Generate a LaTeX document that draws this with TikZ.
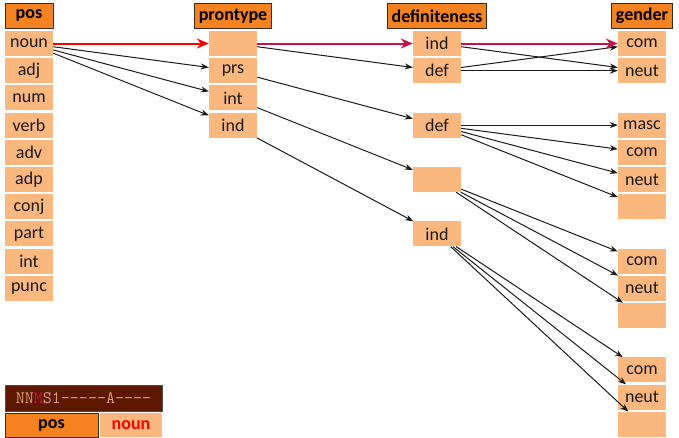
\documentclass[tikz,border=0pt]{standalone}
\usepackage{fontspec}
\usetikzlibrary{arrows.meta}
\newfontfamily\carl{Carlito}
\definecolor{cellc}{HTML}{FAB87F}
\definecolor{headc}{HTML}{F58220}
\definecolor{headb}{HTML}{3A2A1A}
\definecolor{crim}{HTML}{C4104E}
\definecolor{tagbg}{HTML}{5E1700}
\definecolor{tagfg}{HTML}{D8A06C}
\definecolor{arrc}{HTML}{1A1A1A}
\newcommand{\cellfont}{\carl\fontsize{18}{18}\selectfont}
\newcommand{\headfont}{\carl\bfseries\fontsize{18}{18}\selectfont}
\tikzset{
  cell/.style={rectangle, fill=cellc, minimum width=48pt, minimum height=25pt, inner sep=0pt, font=\cellfont, text=black!90},
  head/.style={rectangle, fill=headc, draw=headb, line width=0.9pt, minimum width=48pt, minimum height=25pt, inner xsep=4pt, inner ysep=0pt, font=\headfont},
  arr/.style={draw=arrc, line width=1pt, -{Stealth[length=8pt,width=6pt]}},
  redarr/.style={draw=red, line width=2pt, -{Stealth[length=12pt,width=10pt]}},
  crimarr/.style={draw=crim, line width=2pt, -{Stealth[length=12pt,width=10pt]}},
}
\begin{document}
\begin{tikzpicture}[x=1pt,y=-1pt]
\useasboundingbox (0,0) rectangle (679,437);
\def\ry#1{43.5+27.2*#1}
% headers
\node[head] (hpos) at (29,15.75) {pos};
\node[head] (hpron) at (233,15.75) {prontype};
\node[head] (hdef) at (437,15.75) {definiteness};
\node[head] (hgen) at (642,15.75) {gender};
% pos column
\node[cell] (noun) at (29,{\ry{0}}) {noun};
\node[cell] (adj) at (29,{\ry{1}}) {adj};
\node[cell] (num) at (29,{\ry{2}}) {num};
\node[cell] (verb) at (29,{\ry{3}}) {verb};
\node[cell] (adv) at (29,{\ry{4}}) {adv};
\node[cell] (adp) at (29,{\ry{5}}) {adp};
\node[cell] (conj) at (29,{\ry{6}}) {conj};
\node[cell] (part) at (29,{\ry{7}}) {part};
\node[cell] (intj) at (29,{\ry{8}}) {int};
\node[cell] (punc) at (29,{\ry{9}}) {punc};
% prontype column
\node[cell] (p0) at (233,{\ry{0}}) {};
\node[cell] (p1) at (233,{\ry{1}}) {prs};
\node[cell] (p2) at (233,{\ry{2}}) {int};
\node[cell] (p3) at (233,{\ry{3}}) {ind};
% definiteness column
\node[cell] (d0) at (437,{\ry{0}}) {ind};
\node[cell] (d1) at (437,{\ry{1}}) {def};
\node[cell] (d3) at (437,{\ry{3}}) {def};
\node[cell] (d5) at (437,{\ry{5}}) {};
\node[cell] (d7) at (437,{\ry{7}}) {ind};
% gender column
\node[cell] (g0) at (642,{\ry{0}}) {com};
\node[cell] (g1) at (642,{\ry{1}}) {neut};
\node[cell] (g3) at (642,{\ry{3}}) {masc};
\node[cell] (g4) at (642,{\ry{4}}) {com};
\node[cell] (g5) at (642,{\ry{5}}) {neut};
\node[cell] (g6) at (642,{\ry{6}}) {};
\node[cell] (g8) at (642,{\ry{8}}) {com};
\node[cell] (g9) at (642,{\ry{9}}) {neut};
\node[cell] (g10) at (642,{\ry{10}}) {};
\node[cell] (g12) at (642,{\ry{12}}) {com};
\node[cell] (g13) at (642,{\ry{13}}) {neut};
\node[cell] (g14) at (642,{\ry{14}}) {};
% black connectors
\draw[arr] (noun) -- (p1);
\draw[arr] (noun) -- (p2);
\draw[arr] (noun) -- (p3);
\draw[arr] (p0) -- (d1);
\draw[arr] (p1) -- (d3);
\draw[arr] (p2) -- (d5);
\draw[arr] (p3) -- (d7);
\draw[arr] (d0) -- (g1);
\draw[arr] (d1) -- (g0);
\draw[arr] (d1) -- (g1);
\draw[arr] (d3) -- (g3);
\draw[arr] (d3) -- (g4);
\draw[arr] (d3) -- (g5);
\draw[arr] (d3) -- (g6);
\draw[arr] (d5) -- (g8);
\draw[arr] (d5) -- (g9);
\draw[arr] (d5) -- (g10);
\draw[arr] (d7) -- (g12);
\draw[arr] (d7) -- (g13);
\draw[arr] (d7) -- (g14);
% highlighted path
\draw[redarr] (noun) -- (p0);
\draw[crimarr] (p0) -- (d0);
\draw[crimarr] (d0) -- (g0);
% legend
\node[rectangle, fill=tagbg, draw=black!70, line width=0.8pt, minimum width=157pt, minimum height=26pt, inner sep=0pt, text=tagfg, font=\ttfamily\fontsize{17.5}{17.5}\selectfont] (tag) at (83.5,398) {NN\textcolor{crim}{M}S1-----A----};
\node[head, minimum width=93pt, minimum height=24pt] (lpos) at (51.5,425) {pos};
\node[cell, minimum width=62pt, minimum height=24pt, font=\headfont, text=red] (lnoun) at (131,425) {noun};
\end{tikzpicture}
\end{document}
